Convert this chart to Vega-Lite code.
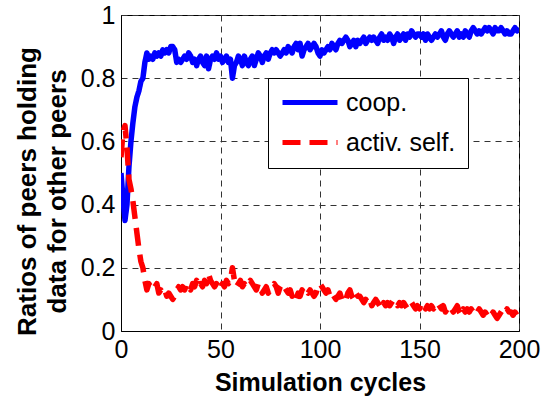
{
  "$schema": "https://vega.github.io/schema/vega-lite/v6.json",
  "width": 398,
  "height": 316,
  "autosize": {"type": "none"},
  "padding": {"left": 121, "top": 15, "right": 23, "bottom": 65},
  "background": "white",
  "config": {
    "font": "Liberation Sans",
    "view": {"stroke": "black", "strokeWidth": 1},
    "legend": {
      "title": null,
      "orient": "none",
      "legendX": 147,
      "legendY": 63,
      "fillColor": "white",
      "strokeColor": "black",
      "padding": 12,
      "symbolType": "M-1,0H4.5",
      "symbolSize": 400,
      "symbolStrokeWidth": 5,
      "labelFont": "Liberation Sans",
      "labelFontSize": 25,
      "labelColor": "black",
      "labelOffset": 41,
      "rowPadding": 14
    }
  },
  "data": {
    "values": [
      {"t":0,"coop":0.50,"self":0.55},{"t":1,"coop":0.42,"self":0.63},{"t":2,"coop":0.35,"self":0.65},{"t":3,"coop":0.40,"self":0.58},{"t":4,"coop":0.52,"self":0.48},
      {"t":5,"coop":0.60,"self":0.45},{"t":6,"coop":0.66,"self":0.41},{"t":7,"coop":0.71,"self":0.36},{"t":8,"coop":0.74,"self":0.31},{"t":9,"coop":0.76,"self":0.26},
      {"t":10,"coop":0.79,"self":0.22},{"t":11,"coop":0.80,"self":0.20},{"t":12,"coop":0.85,"self":0.16},{"t":13,"coop":0.88,"self":0.13},{"t":14,"coop":0.86,"self":0.15},
      {"t":15,"coop":0.87,"self":0.14},{"t":16,"coop":0.86,"self":0.13},{"t":17,"coop":0.88,"self":0.14},{"t":18,"coop":0.87,"self":0.15},{"t":19,"coop":0.88,"self":0.12},
      {"t":20,"coop":0.87,"self":0.13},{"t":21,"coop":0.89,"self":0.12},{"t":22,"coop":0.88,"self":0.13},{"t":23,"coop":0.89,"self":0.11},{"t":24,"coop":0.88,"self":0.12},
      {"t":25,"coop":0.90,"self":0.11},{"t":26,"coop":0.90,"self":0.10},{"t":27,"coop":0.89,"self":0.11},{"t":28,"coop":0.85,"self":0.13},{"t":29,"coop":0.86,"self":0.14},
      {"t":30,"coop":0.85,"self":0.13},{"t":31,"coop":0.86,"self":0.14},{"t":32,"coop":0.87,"self":0.13},{"t":33,"coop":0.86,"self":0.15},{"t":34,"coop":0.88,"self":0.14},
      {"t":35,"coop":0.87,"self":0.13},{"t":36,"coop":0.85,"self":0.15},{"t":37,"coop":0.86,"self":0.14},{"t":38,"coop":0.84,"self":0.16},{"t":39,"coop":0.86,"self":0.14},
      {"t":40,"coop":0.87,"self":0.15},{"t":41,"coop":0.85,"self":0.14},{"t":42,"coop":0.84,"self":0.16},{"t":43,"coop":0.87,"self":0.15},{"t":44,"coop":0.83,"self":0.18},
      {"t":45,"coop":0.86,"self":0.16},{"t":46,"coop":0.87,"self":0.15},{"t":47,"coop":0.86,"self":0.14},{"t":48,"coop":0.88,"self":0.15},{"t":49,"coop":0.86,"self":0.14},
      {"t":50,"coop":0.87,"self":0.13},{"t":51,"coop":0.85,"self":0.15},{"t":52,"coop":0.86,"self":0.14},{"t":53,"coop":0.87,"self":0.16},{"t":54,"coop":0.85,"self":0.15},
      {"t":55,"coop":0.86,"self":0.16},{"t":56,"coop":0.80,"self":0.20},{"t":57,"coop":0.84,"self":0.16},{"t":58,"coop":0.85,"self":0.14},{"t":59,"coop":0.87,"self":0.15},
      {"t":60,"coop":0.86,"self":0.16},{"t":61,"coop":0.84,"self":0.14},{"t":62,"coop":0.87,"self":0.15},{"t":63,"coop":0.85,"self":0.14},{"t":64,"coop":0.84,"self":0.15},
      {"t":65,"coop":0.86,"self":0.16},{"t":66,"coop":0.87,"self":0.15},{"t":67,"coop":0.84,"self":0.14},{"t":68,"coop":0.86,"self":0.13},{"t":69,"coop":0.88,"self":0.15},
      {"t":70,"coop":0.87,"self":0.14},{"t":71,"coop":0.85,"self":0.12},{"t":72,"coop":0.87,"self":0.13},{"t":73,"coop":0.88,"self":0.14},{"t":74,"coop":0.86,"self":0.12},
      {"t":75,"coop":0.88,"self":0.13},{"t":76,"coop":0.89,"self":0.14},{"t":77,"coop":0.88,"self":0.15},{"t":78,"coop":0.89,"self":0.14},{"t":79,"coop":0.88,"self":0.12},
      {"t":80,"coop":0.87,"self":0.14},{"t":81,"coop":0.88,"self":0.15},{"t":82,"coop":0.89,"self":0.14},{"t":83,"coop":0.88,"self":0.13},{"t":84,"coop":0.90,"self":0.12},
      {"t":85,"coop":0.89,"self":0.13},{"t":86,"coop":0.88,"self":0.11},{"t":87,"coop":0.90,"self":0.12},{"t":88,"coop":0.91,"self":0.10},{"t":89,"coop":0.89,"self":0.12},
      {"t":90,"coop":0.91,"self":0.11},{"t":91,"coop":0.87,"self":0.13},{"t":92,"coop":0.89,"self":0.12},{"t":93,"coop":0.90,"self":0.13},{"t":94,"coop":0.91,"self":0.12},
      {"t":95,"coop":0.89,"self":0.13},{"t":96,"coop":0.90,"self":0.12},{"t":97,"coop":0.91,"self":0.11},{"t":98,"coop":0.90,"self":0.12},{"t":99,"coop":0.88,"self":0.14},
      {"t":100,"coop":0.87,"self":0.15},{"t":101,"coop":0.89,"self":0.14},{"t":102,"coop":0.88,"self":0.13},{"t":103,"coop":0.89,"self":0.12},{"t":104,"coop":0.90,"self":0.13},
      {"t":105,"coop":0.89,"self":0.11},{"t":106,"coop":0.91,"self":0.12},{"t":107,"coop":0.90,"self":0.11},{"t":108,"coop":0.89,"self":0.10},{"t":109,"coop":0.91,"self":0.11},
      {"t":110,"coop":0.92,"self":0.12},{"t":111,"coop":0.91,"self":0.10},{"t":112,"coop":0.92,"self":0.11},{"t":113,"coop":0.93,"self":0.10},{"t":114,"coop":0.92,"self":0.12},
      {"t":115,"coop":0.90,"self":0.13},{"t":116,"coop":0.91,"self":0.11},{"t":117,"coop":0.92,"self":0.10},{"t":118,"coop":0.90,"self":0.12},{"t":119,"coop":0.92,"self":0.11},
      {"t":120,"coop":0.91,"self":0.11},{"t":121,"coop":0.92,"self":0.10},{"t":122,"coop":0.93,"self":0.09},{"t":123,"coop":0.91,"self":0.10},{"t":124,"coop":0.92,"self":0.09},
      {"t":125,"coop":0.93,"self":0.10},{"t":126,"coop":0.92,"self":0.08},{"t":127,"coop":0.93,"self":0.09},{"t":128,"coop":0.92,"self":0.10},{"t":129,"coop":0.91,"self":0.09},
      {"t":130,"coop":0.93,"self":0.08},{"t":131,"coop":0.94,"self":0.07},{"t":132,"coop":0.92,"self":0.09},{"t":133,"coop":0.93,"self":0.08},{"t":134,"coop":0.92,"self":0.09},
      {"t":135,"coop":0.94,"self":0.08},{"t":136,"coop":0.93,"self":0.09},{"t":137,"coop":0.91,"self":0.10},{"t":138,"coop":0.93,"self":0.09},{"t":139,"coop":0.94,"self":0.08},
      {"t":140,"coop":0.92,"self":0.09},{"t":141,"coop":0.93,"self":0.08},{"t":142,"coop":0.94,"self":0.09},{"t":143,"coop":0.92,"self":0.08},{"t":144,"coop":0.94,"self":0.07},
      {"t":145,"coop":0.93,"self":0.08},{"t":146,"coop":0.95,"self":0.09},{"t":147,"coop":0.94,"self":0.08},{"t":148,"coop":0.93,"self":0.07},{"t":149,"coop":0.94,"self":0.08},
      {"t":150,"coop":0.94,"self":0.07},{"t":151,"coop":0.93,"self":0.09},{"t":152,"coop":0.94,"self":0.08},{"t":153,"coop":0.92,"self":0.07},{"t":154,"coop":0.94,"self":0.08},
      {"t":155,"coop":0.93,"self":0.07},{"t":156,"coop":0.92,"self":0.08},{"t":157,"coop":0.93,"self":0.07},{"t":158,"coop":0.94,"self":0.08},{"t":159,"coop":0.93,"self":0.09},
      {"t":160,"coop":0.94,"self":0.08},{"t":161,"coop":0.95,"self":0.07},{"t":162,"coop":0.93,"self":0.08},{"t":163,"coop":0.92,"self":0.06},{"t":164,"coop":0.94,"self":0.07},
      {"t":165,"coop":0.95,"self":0.08},{"t":166,"coop":0.94,"self":0.07},{"t":167,"coop":0.93,"self":0.06},{"t":168,"coop":0.94,"self":0.07},{"t":169,"coop":0.95,"self":0.08},
      {"t":170,"coop":0.93,"self":0.06},{"t":171,"coop":0.94,"self":0.05},{"t":172,"coop":0.93,"self":0.07},{"t":173,"coop":0.95,"self":0.06},{"t":174,"coop":0.94,"self":0.07},
      {"t":175,"coop":0.93,"self":0.06},{"t":176,"coop":0.95,"self":0.07},{"t":177,"coop":0.96,"self":0.06},{"t":178,"coop":0.95,"self":0.05},{"t":179,"coop":0.94,"self":0.06},
      {"t":180,"coop":0.95,"self":0.07},{"t":181,"coop":0.94,"self":0.06},{"t":182,"coop":0.95,"self":0.05},{"t":183,"coop":0.96,"self":0.06},{"t":184,"coop":0.95,"self":0.05},
      {"t":185,"coop":0.96,"self":0.06},{"t":186,"coop":0.95,"self":0.05},{"t":187,"coop":0.94,"self":0.06},{"t":188,"coop":0.96,"self":0.05},{"t":189,"coop":0.95,"self":0.04},
      {"t":190,"coop":0.95,"self":0.05},{"t":191,"coop":0.96,"self":0.06},{"t":192,"coop":0.95,"self":0.07},{"t":193,"coop":0.94,"self":0.06},{"t":194,"coop":0.95,"self":0.07},
      {"t":195,"coop":0.94,"self":0.06},{"t":196,"coop":0.94,"self":0.06},{"t":197,"coop":0.95,"self":0.05},{"t":198,"coop":0.96,"self":0.06},{"t":199,"coop":0.95,"self":0.05},
      {"t":200,"coop":0.96,"self":0.05}
    ]
  },
  "transform": [
    {"fold": ["coop", "self"], "as": ["series", "ratio"]}
  ],
  "mark": {"type": "line", "strokeWidth": 5.5, "strokeJoin": "round", "clip": true},
  "encoding": {
    "x": {
      "field": "t",
      "type": "quantitative",
      "scale": {"domain": [0, 200], "nice": false, "zero": false},
      "axis": {
        "values": [0, 50, 100, 150, 200],
        "title": "Simulation cycles",
        "titleFont": "Liberation Sans",
        "titleFontSize": 25,
        "titleFontWeight": "bold",
        "titleColor": "black",
        "titleBaseline": "alphabetic",
        "titleY": 59,
        "labelFont": "Liberation Sans",
        "labelFontSize": 25,
        "labelColor": "black",
        "labelPadding": 6,
        "labelFlush": false,
        "labelOverlap": false,
        "ticks": false,
        "tickSize": 0,
        "domainColor": "black",
        "grid": true,
        "gridColor": "#333333",
        "gridDash": [6, 5],
        "gridWidth": 1,
        "gridOpacity": 1
      }
    },
    "y": {
      "field": "ratio",
      "type": "quantitative",
      "scale": {"domain": [0, 1], "nice": false},
      "axis": {
        "values": [0, 0.2, 0.4, 0.6, 0.8, 1],
        "format": "~g",
        "title": ["Ratios of peers holding", "data for other peers"],
        "titleFont": "Liberation Sans",
        "titleFontSize": 26,
        "titleFontWeight": "bold",
        "titleColor": "black",
        "titleLineHeight": 30,
        "titleAngle": 270,
        "titleAlign": "center",
        "titleBaseline": "bottom",
        "titleX": -81,
        "titleY": 176,
        "labelFont": "Liberation Sans",
        "labelFontSize": 25,
        "labelColor": "black",
        "labelPadding": 6,
        "labelFlush": false,
        "labelOverlap": false,
        "ticks": false,
        "tickSize": 0,
        "domainColor": "black",
        "grid": true,
        "gridColor": "#333333",
        "gridDash": [6, 5],
        "gridWidth": 1,
        "gridOpacity": 1
      }
    },
    "color": {
      "field": "series",
      "type": "nominal",
      "scale": {"domain": ["coop", "self"], "range": ["#0000ff", "#ff0000"]},
      "legend": {
        "labelExpr": "datum.label == 'coop' ? 'coop.' : 'activ. self.'"
      }
    },
    "strokeDash": {
      "field": "series",
      "type": "nominal",
      "scale": {"domain": ["coop", "self"], "range": [[1, 0], [18, 9]]},
      "legend": {
        "labelExpr": "datum.label == 'coop' ? 'coop.' : 'activ. self.'"
      }
    }
  }
}
